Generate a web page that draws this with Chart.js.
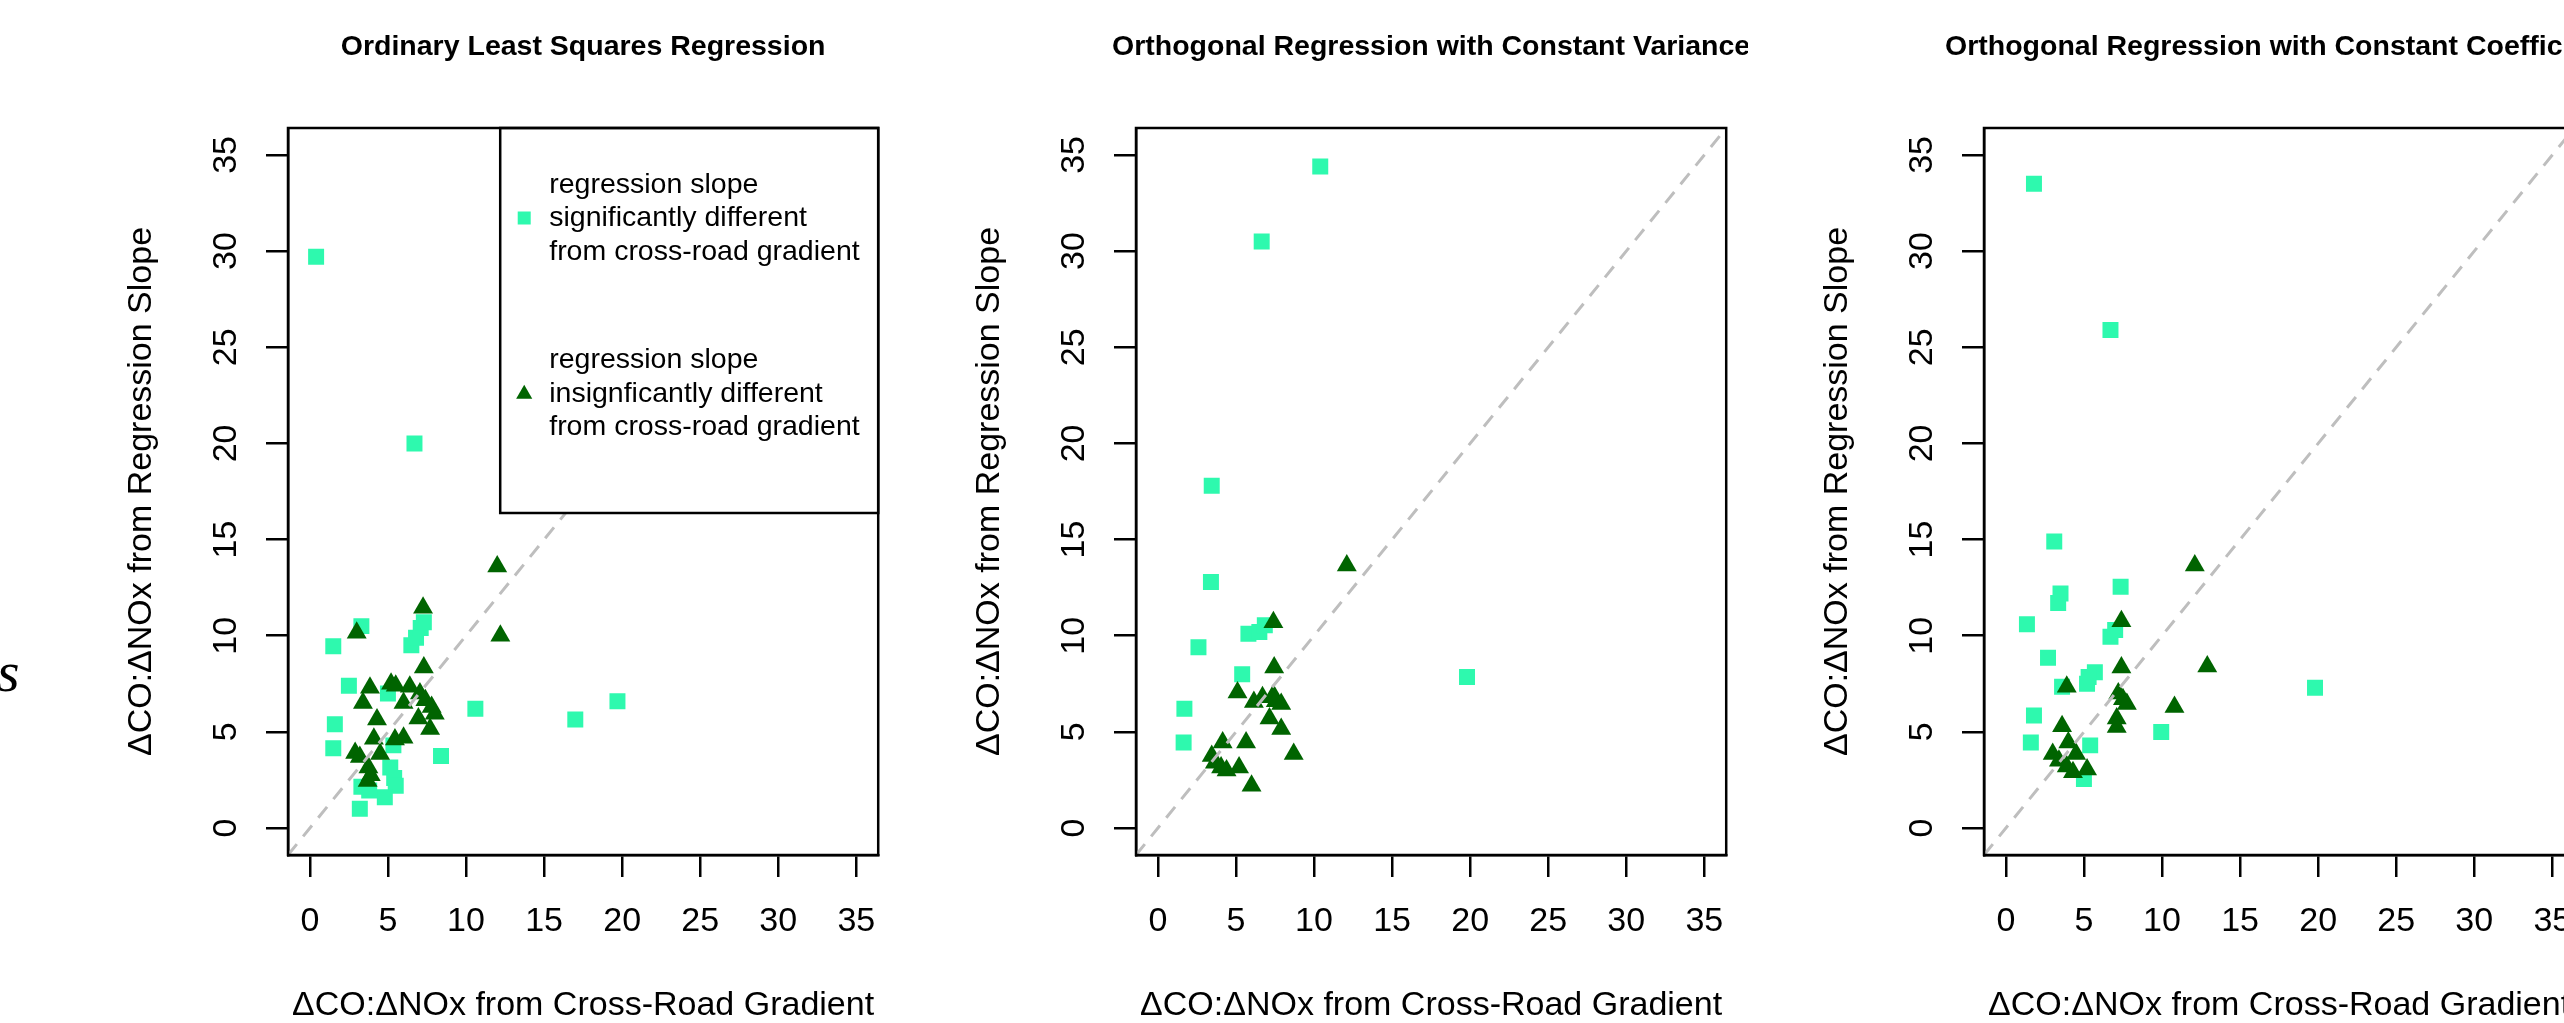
<!DOCTYPE html>
<html><head><meta charset="utf-8">
<script src="https://cdn.jsdelivr.net/npm/chart.js@4.4.1/dist/chart.umd.min.js"></script>
<style>
html,body{margin:0;padding:0;background:#fff;overflow:hidden;}
#wrap{position:relative;width:2564px;height:1023px;overflow:hidden;background:#fff;}
#wrap canvas{position:absolute;top:0;}
#stray{position:absolute;left:-3px;top:643px;font:italic 58px "Liberation Serif";line-height:1;color:#000;}
</style></head><body>
<div id="wrap">
<canvas id="c1" width="900" height="1023" style="left:0px"></canvas>
<canvas id="c2" width="900" height="1023" style="left:848px"></canvas>
<canvas id="c3" width="900" height="1023" style="left:1696px"></canvas>
<div id="stray">s</div>
</div>
<script>
// ---- data ----
const axisLimits = [-1.4, 36.4];
const tickValues = [0, 5, 10, 15, 20, 25, 30, 35];
const panelTitles = ['Ordinary Least Squares Regression', 'Orthogonal Regression with Constant Variance', 'Orthogonal Regression with Constant Coefficient'];
const xAxisTitle = '\u0394CO:\u0394NOx from Cross-Road Gradient';
const yAxisTitle = '\u0394CO:\u0394NOx from Regression Slope';
const legendSig = ['regression slope', 'significantly different', 'from cross-road gradient'];
const legendIns = ['regression slope', 'insignficantly different', 'from cross-road gradient'];

// Panel 1: OLS
const olsSigX = [0.4, 6.7, 1.5, 3.3, 2.5, 1.6, 1.5, 5.0, 6.5, 6.8, 7.1, 7.3, 10.6, 17.0, 19.7, 8.4, 5.35, 5.15, 5.4, 5.5, 4.8, 3.2, 3.3, 3.8];
const olsSigY = [29.7, 20.0, 9.45, 10.5, 7.4, 5.4, 4.15, 7.0, 9.5, 9.9, 10.4, 10.7, 6.2, 5.65, 6.6, 3.75, 4.3, 3.15, 2.6, 2.2, 1.6, 1.0, 2.15, 1.95];
const olsInsX = [12.0, 12.2, 7.25, 3.0, 7.3, 3.85, 5.2, 5.5, 6.4, 3.4, 6.0, 7.05, 7.4, 7.8, 8.0, 6.95, 7.7, 4.3, 4.1, 5.45, 6.0, 4.5, 2.9, 3.2, 3.75, 3.9, 3.7];
const olsInsY = [13.6, 10.0, 11.45, 10.15, 8.35, 7.3, 7.5, 7.4, 7.35, 6.5, 6.5, 7.0, 6.65, 6.3, 5.95, 5.7, 5.15, 5.65, 4.65, 4.6, 4.7, 3.85, 3.9, 3.7, 3.15, 2.75, 2.45];

// Panel 2: orthogonal, constant variance
const cvSigX = [10.4, 6.65, 3.45, 3.4, 2.6, 5.4, 1.7, 1.65, 19.8, 5.8, 6.5, 6.85];
const cvSigY = [34.4, 30.5, 17.8, 12.8, 9.4, 8.0, 6.2, 4.45, 7.85, 10.1, 10.2, 10.55];
const cvInsX = [12.1, 7.4, 7.45, 5.1, 6.15, 6.7, 7.4, 7.55, 7.9, 7.15, 7.9, 8.7, 4.15, 5.65, 3.45, 3.65, 4.05, 4.4, 5.2, 6.0];
const cvInsY = [13.65, 10.7, 8.35, 7.05, 6.55, 6.8, 6.9, 6.6, 6.45, 5.7, 5.15, 3.85, 4.45, 4.45, 3.75, 3.4, 3.15, 3.0, 3.15, 2.2];

// Panel 3: orthogonal, constant coefficient of variation
const ccvSigX = [1.8, 6.7, 3.1, 3.5, 3.35, 7.35, 1.35, 2.7, 6.7, 7.0, 5.2, 5.7, 5.3, 3.6, 1.8, 1.6, 5.4, 5.0, 9.95, 19.8];
const ccvSigY = [33.5, 25.9, 14.9, 12.2, 11.7, 12.55, 10.6, 8.85, 9.95, 10.3, 7.5, 8.1, 7.85, 7.35, 5.85, 4.45, 4.3, 2.55, 5.0, 7.3];
const ccvInsX = [12.1, 7.4, 12.9, 7.4, 3.9, 7.2, 7.5, 7.75, 10.8, 7.1, 7.1, 3.6, 4.0, 3.0, 3.4, 4.5, 4.3, 5.2, 3.9];
const ccvInsY = [13.65, 10.75, 8.4, 8.35, 7.35, 7.0, 6.7, 6.45, 6.3, 5.7, 5.25, 5.3, 4.45, 3.85, 3.5, 3.85, 2.9, 3.05, 3.2];

// ---- styling ----
const SIG_COLOR = '#2EF9AE';
const INS_COLOR = '#006400';
const FONT = 'Liberation Sans';
Chart.defaults.font.family = FONT;

const toPts = (xs, ys) => xs.map((x, i) => ({ x: x, y: ys[i] }));

function drawSquare(ctx, x, y, side) {
  ctx.fillStyle = SIG_COLOR;
  ctx.fillRect(x - side / 2, y - side / 2, side, side);
}
function drawTriangle(ctx, x, y, r) {
  ctx.fillStyle = INS_COLOR;
  ctx.beginPath();
  for (let k = 0; k < 3; k++) {
    const a = k * 2 * Math.PI / 3;
    const px = x + Math.sin(a) * r, py = y - Math.cos(a) * r;
    if (k === 0) ctx.moveTo(px, py); else ctx.lineTo(px, py);
  }
  ctx.closePath();
  ctx.fill();
}

const legendPlugin = {
  id: 'rlegend',
  afterDatasetsDraw(chart, args, opts) {
    if (!opts.show) return;
    const ctx = chart.ctx, a = chart.chartArea;
    const L = a.right - 378, T = a.top, B = a.top + 385;
    ctx.save();
    ctx.fillStyle = '#fff';
    ctx.fillRect(L, T, a.right - L, B - T);
    ctx.strokeStyle = '#000';
    ctx.lineWidth = 2.5;
    ctx.strokeRect(L, T, a.right - L, B - T);
    ctx.fillStyle = '#000';
    ctx.font = '28.5px "' + FONT + '"';
    ctx.textAlign = 'left';
    ctx.textBaseline = 'alphabetic';
    const tx = a.right - 329;
    const base1 = [65, 98.3, 131.7], base2 = [240.3, 273.7, 307];
    legendSig.forEach((s, i) => { ctx.fillStyle = '#000'; ctx.fillText(s, tx, T + base1[i]); });
    legendIns.forEach((s, i) => { ctx.fillStyle = '#000'; ctx.fillText(s, tx, T + base2[i]); });
    drawSquare(ctx, a.right - 354, T + 90, 13);
    drawTriangle(ctx, a.right - 354, T + 266, 9.3);
    ctx.restore();
  }
};

const framePlugin = {
  id: 'rframe',
  afterDraw(chart, args, opts) {
    const ctx = chart.ctx, a = chart.chartArea;
    ctx.save();
    ctx.strokeStyle = '#000';
    ctx.lineWidth = 2.5;
    ctx.strokeRect(a.left, a.top, a.right - a.left, a.bottom - a.top);
    ctx.fillStyle = '#000';
    const cx = (a.left + a.right) / 2, cy = (a.top + a.bottom) / 2;
    ctx.textAlign = 'center';
    ctx.textBaseline = 'alphabetic';
    ctx.font = 'bold 28.5px "' + FONT + '"';
    ctx.fillText(opts.title, cx, 55);
    ctx.font = '34px "' + FONT + '"';
    ctx.fillText(xAxisTitle, cx, 1015);
    ctx.translate(a.left - 137, cy);
    ctx.rotate(-Math.PI / 2);
    ctx.fillText(yAxisTitle, 0, 0);
    ctx.restore();
  }
};

function axisCommon(extra) {
  return Object.assign({
    type: 'linear',
    min: axisLimits[0],
    max: axisLimits[1],
    afterBuildTicks: s => { s.ticks = tickValues.map(v => ({ value: v })); },
    grid: { display: true, drawOnChartArea: false, drawTicks: true, tickLength: 22, color: '#000', lineWidth: 2.5 },
    border: { display: true, color: '#000', width: 2.5 },
  }, extra);
}

function makeChart(id, sigX, sigY, insX, insY, title, withLegend) {
  new Chart(document.getElementById(id), {
    type: 'scatter',
    data: {
      datasets: [
        { label: 'y = x', type: 'line', data: [{ x: axisLimits[0], y: axisLimits[0] }, { x: axisLimits[1], y: axisLimits[1] }],
          borderColor: '#BEBEBE', borderWidth: 3, borderDash: [14, 10], pointRadius: 0, fill: false, tension: 0, order: 0 },
        { label: 'significant', data: toPts(sigX, sigY), pointStyle: 'rect', pointRadius: 11.3, backgroundColor: SIG_COLOR, borderWidth: 0, order: 2 },
        { label: 'insignificant', data: toPts(insX, insY), pointStyle: 'triangle', pointRadius: 11.5, backgroundColor: INS_COLOR, borderWidth: 0, order: 1 }
      ]
    },
    options: {
      responsive: false, animation: false, devicePixelRatio: 1,
      events: [],
      layout: { padding: { left: 0, top: 128, right: 20, bottom: 0 }, autoPadding: false },
      plugins: { legend: { display: false }, tooltip: { enabled: false }, rlegend: { show: withLegend }, rframe: { title: title } },
      scales: {
        x: axisCommon({
          position: 'bottom',
          afterFit: s => { s.height = 168; },
          ticks: { color: '#000', font: { family: FONT, size: 34 }, padding: 24, maxRotation: 0, minRotation: 0, autoSkip: false }
        }),
        y: axisCommon({
          position: 'left',
          afterFit: s => { s.width = 288; },
          ticks: { color: '#000', font: { family: FONT, size: 34 }, padding: 20, minRotation: 90, maxRotation: 90, crossAlign: 'center', autoSkip: false }
        })
      }
    },
    plugins: [legendPlugin, framePlugin]
  });
}

makeChart('c1', olsSigX, olsSigY, olsInsX, olsInsY, panelTitles[0], true);
makeChart('c2', cvSigX, cvSigY, cvInsX, cvInsY, panelTitles[1], false);
makeChart('c3', ccvSigX, ccvSigY, ccvInsX, ccvInsY, panelTitles[2], false);
</script>
</body></html>
